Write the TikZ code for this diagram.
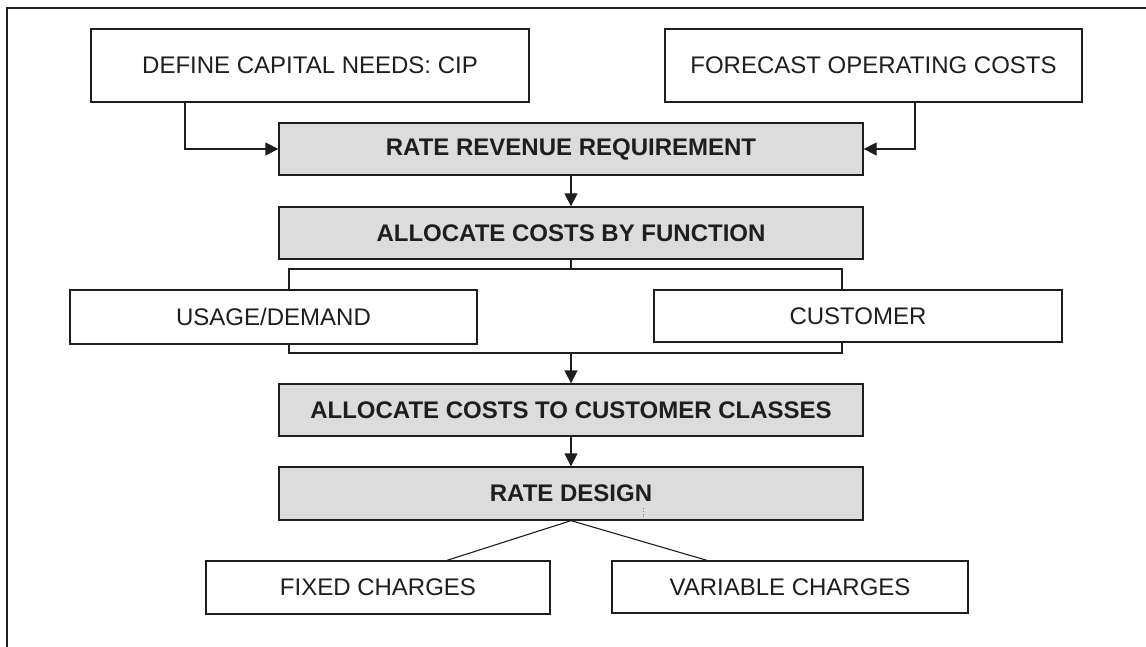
\documentclass[tikz,border=0pt]{standalone}
\usepackage{fontspec}
\setmainfont{Liberation Sans}
\usetikzlibrary{arrows.meta,backgrounds}
\definecolor{ink}{HTML}{1E1E1E}
\definecolor{shade}{HTML}{DCDCDC}
\begin{document}
\begin{tikzpicture}[x=1pt,y=-1pt,
  every node/.style={font=\fontsize{24}{28}\selectfont, text=ink},
  plainbox/.style={draw=ink, line width=1.3pt, fill=white, inner sep=0pt},
  graybox/.style={draw=ink, line width=1.3pt, fill=shade, inner sep=0pt, font=\fontsize{24}{28}\selectfont\bfseries},
  link/.style={draw=ink, line width=1.3pt},
  arr/.style={link, -{Triangle[length=13pt,width=13pt]}}]
\useasboundingbox (0,0) rectangle (1146,647);
% outer frame (top and left edges)
\draw[ink, line width=1.5pt] (7,647) -- (7,8) -- (1146,8);

% top inputs
\node[plainbox, minimum width=438pt, minimum height=73pt] (def) at (310,65.5) {DEFINE CAPITAL NEEDS: CIP};
\node[plainbox, minimum width=417pt, minimum height=73pt] (fore) at (873.5,65.5) {FORECAST OPERATING COSTS};

% main chain
\node[graybox, minimum width=584pt, minimum height=52pt] (rrr) at (571,149) {RATE REVENUE REQUIREMENT};
\node[graybox, minimum width=584pt, minimum height=52pt] (func) at (571,233) {ALLOCATE COSTS BY FUNCTION};
\node[plainbox, minimum width=407pt, minimum height=54pt] (usage) at (273.5,317) {USAGE/DEMAND};
\node[plainbox, minimum width=408pt, minimum height=52pt] (cust) at (858,316) {CUSTOMER};
\node[graybox, minimum width=584pt, minimum height=52pt] (classes) at (571,410) {ALLOCATE COSTS TO CUSTOMER CLASSES};
\node[graybox, minimum width=584pt, minimum height=53pt] (design) at (571,493.5) {RATE DESIGN};
\node[plainbox, minimum width=344pt, minimum height=53pt] (fixed) at (378,587.5) {FIXED CHARGES};
\node[plainbox, minimum width=356pt, minimum height=52pt] (var) at (790,587) {VARIABLE CHARGES};

% inputs into the revenue requirement
\draw[arr] ([xshift=-125pt]def.south) |- (rrr.west);
\draw[arr] ([xshift=41.5pt]fore.south) |- (rrr.east);
\draw[arr] (rrr.south) -- (func.north);

% functional split bracket, behind the two function boxes
\coordinate (btl) at (289,269);
\coordinate (bbr) at (842,353);
\begin{scope}[on background layer]
  \draw[link] (btl) rectangle (bbr);
  \draw[link] (func.south) -- (func.south |- btl);
\end{scope}
\draw[arr] (classes.north |- bbr) -- (classes.north);
\draw[arr] (classes.south) -- (design.north);

% rate design branches
\draw[link, line width=1.1pt] (design.south) -- ([xshift=69pt]fixed.north);
\draw[link, line width=1.1pt] (design.south) -- ([xshift=-83pt]var.north);

% small dotted tick inside the rate design box
\coordinate (tk) at (643,508);
\draw[gray, dotted, line width=0.8pt] (tk) -- ++(0,9);
\end{tikzpicture}
\end{document}
